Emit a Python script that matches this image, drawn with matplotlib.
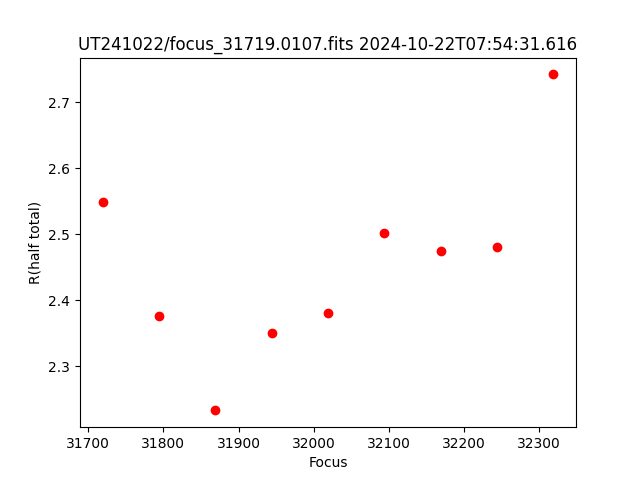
import matplotlib
matplotlib.use("Agg")
import matplotlib.pyplot as plt

focus = [31719, 31794, 31869, 31944, 32019, 32094, 32169, 32244, 32319]
r_half_total = [2.548, 2.376, 2.233, 2.351, 2.380, 2.501, 2.475, 2.481, 2.742]

fig, ax = plt.subplots(figsize=(6.4, 4.8), dpi=100)
ax.plot(focus, r_half_total, "ro")
ax.set_xlabel("Focus")
ax.set_ylabel("R(half total)")
ax.set_title("UT241022/focus_31719.0107.fits 2024-10-22T07:54:31.616")
fig.savefig("out.png")
